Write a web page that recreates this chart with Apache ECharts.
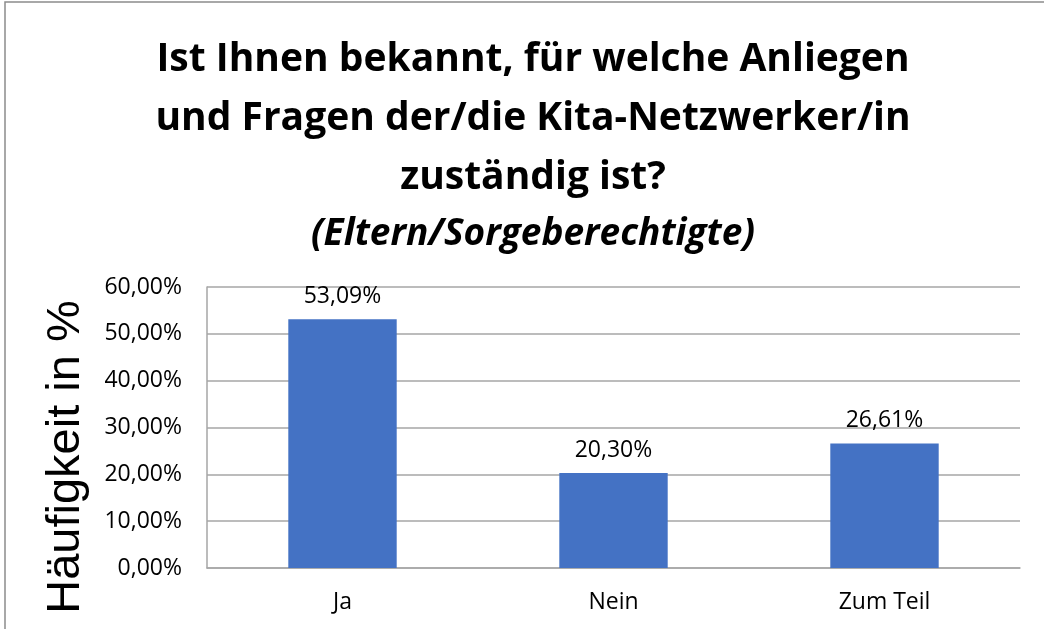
<!DOCTYPE html>
<html>
<head>
<meta charset="utf-8">
<script src="https://cdn.jsdelivr.net/npm/echarts@6/dist/echarts.min.js"></script>
<style>
  html, body { margin: 0; padding: 0; background: #fff; }
  #chart { width: 1044px; height: 629px; }
</style>
</head>
<body>
<div id="chart"></div>
<script>
// Daten aus der Grafik
var categories = ['Ja', 'Nein', 'Zum Teil']
var values = [53.09, 20.30, 26.61]
var yTicks = { min: 0, max: 60, interval: 10 }

var titleLines = [
  'Ist Ihnen bekannt, für welche Anliegen',
  'und Fragen der/die Kita-Netzwerker/in',
  'zuständig ist?'
]
var subTitle = '(Eltern/Sorgeberechtigte)'
var yName = 'Häufigkeit in %'

function pct (v) {
  return v.toFixed(2).replace('.', ',') + '%'
}

var myChart = echarts.init(document.getElementById('chart'))

var option = {
  animation: false,
  title: [
    {
      text: titleLines.join('\n'),
      left: 528,
      top: 25,
      textAlign: 'center',
      textStyle: {
        fontFamily: 'Open Sans',
        fontWeight: 'bold',
        fontSize: 39,
        lineHeight: 59,
        color: '#000'
      }
    },
    {
      text: subTitle,
      left: 528,
      top: 200,
      textAlign: 'center',
      textStyle: {
        fontFamily: 'Open Sans',
        fontWeight: 'bold',
        fontStyle: 'italic',
        fontSize: 37,
        lineHeight: 59,
        color: '#000'
      }
    }
  ],
  graphic: [
    {
      type: 'rect',
      shape: { x: 5, y: 2, width: 1060, height: 660 },
      style: { fill: 'none', stroke: '#8c8c8c', lineWidth: 1.5 },
      silent: true
    },
    {
      type: 'text',
      x: 66,
      y: 457,
      rotation: Math.PI / 2,
      style: {
        text: yName,
        font: '47px "Liberation Sans"',
        fill: '#000',
        align: 'center',
        verticalAlign: 'middle'
      }
    }
  ],
  grid: {
    left: 207,
    right: 24,
    top: 287,
    bottom: 61
  },
  xAxis: {
    type: 'category',
    data: categories,
    axisLine: { show: true, lineStyle: { color: '#a6a6a6', width: 1.5 } },
    axisTick: { show: false },
    axisLabel: {
      margin: 23,
      fontFamily: 'Open Sans',
      fontSize: 23,
      color: '#000'
    }
  },
  yAxis: {
    type: 'value',
    min: yTicks.min,
    max: yTicks.max,
    interval: yTicks.interval,
    axisLine: { show: true, lineStyle: { color: '#a6a6a6', width: 1.5 } },
    axisTick: { show: false },
    splitLine: { show: true, lineStyle: { color: '#a6a6a6', width: 1.5 } },
    axisLabel: {
      margin: 25,
      fontFamily: 'Open Sans',
      fontSize: 23,
      color: '#000',
      formatter: function (v) { return pct(v) }
    }
  },
  series: [
    {
      type: 'bar',
      data: values,
      barWidth: '40%',
      itemStyle: { color: '#4472c4' },
      label: {
        show: true,
        position: 'top',
        distance: 11,
        fontFamily: 'Open Sans',
        fontSize: 23,
        color: '#000',
        formatter: function (p) { return pct(p.value) }
      }
    }
  ]
}

myChart.setOption(option)
</script>
</body>
</html>
